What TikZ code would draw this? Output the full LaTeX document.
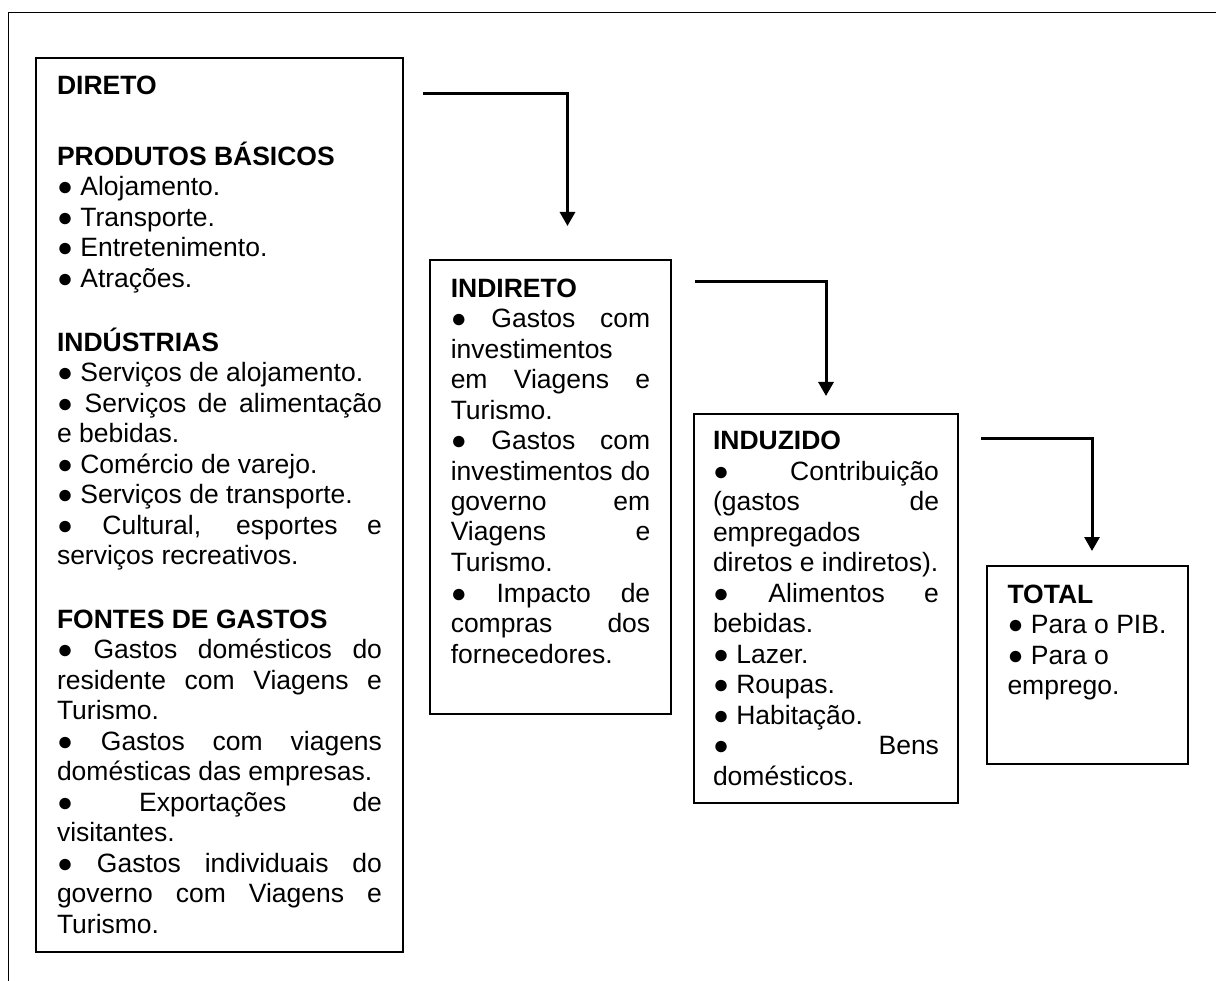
\documentclass[tikz,border=0pt]{standalone}
\usepackage{fontspec}
\setmainfont{Liberation Sans}
\usetikzlibrary{arrows.meta}
\newcommand\Jl[1]{\noindent\makebox[\linewidth][s]{\strut#1}\par}
\newcommand\Ll[1]{\noindent\strut#1\par}
\newcommand\Bl[1]{\noindent\strut\textbf{#1}\par}
\newcommand\Bu{●}
\newcommand\Boxtext[3]{\parbox[c][#1][t]{#2}{\fontsize{26.5}{30.5}\selectfont\setlength\parskip{0pt}\setlength\parindent{0pt}#3}}
\tikzset{
  tbox/.style={draw=black, line width=2.8pt, anchor=north west, inner ysep=0pt, outer sep=0pt},
  conn/.style={draw=black, line width=3pt, -{Triangle[width=15pt,length=14pt]}},
  frame/.style={draw=black, line width=1.5pt}
}
\begin{document}
\begin{tikzpicture}[x=1pt,y=-1pt]
\useasboundingbox (0,0) rectangle (1216,981);
\draw[frame] (8.5,981) -- (8.5,12.5) -- (1216,12.5);

\node[tbox, inner xsep=21pt] (direto) at (36,58) {\Boxtext{894pt}{325pt}{%
\vspace*{14.65pt}
\Bl{DIRETO}
\vspace{37.5pt}
\Bl{PRODUTOS BÁSICOS}
\Ll{\Bu{} Alojamento.}
\Ll{\Bu{} Transporte.}
\Ll{\Bu{} Entretenimento.}
\Ll{\Bu{} Atrações.}
\vspace{30.5pt}
\Bl{INDÚSTRIAS}
\Ll{\Bu{} Serviços de alojamento.}
\Jl{\Bu{} Serviços de alimentação}
\Ll{e bebidas.}
\Ll{\Bu{} Comércio de varejo.}
\Ll{\Bu{} Serviços de transporte.}
\Jl{\Bu{} Cultural, esportes e}
\Ll{serviços recreativos.}
\vspace{33pt}
\Bl{FONTES DE GASTOS}
\Jl{\Bu{} Gastos domésticos do}
\Jl{residente com Viagens e}
\Ll{Turismo.}
\Jl{\Bu{} Gastos com viagens}
\Ll{domésticas das empresas.}
\Jl{\Bu{} Exportações de}
\Ll{visitantes.}
\Jl{\Bu{} Gastos individuais do}
\Jl{governo com Viagens e}
\Ll{Turismo.}
}};

\node[tbox, inner xsep=20.75pt] (indireto) at (430,260) {\Boxtext{454pt}{199.5pt}{%
\vspace*{15.65pt}
\Bl{INDIRETO}
\Jl{\Bu{} Gastos com}
\Ll{investimentos}
\Jl{em Viagens e}
\Ll{Turismo.}
\Jl{\Bu{} Gastos com}
\Jl{investimentos do}
\Jl{governo em}
\Jl{Viagens e}
\Ll{Turismo.}
\Jl{\Bu{} Impacto de}
\Jl{compras dos}
\Ll{fornecedores.}
}};

\node[tbox, inner xsep=19pt] (induzido) at (694,414) {\Boxtext{389pt}{226pt}{%
\vspace*{14.15pt}
\Bl{INDUZIDO}
\Jl{\Bu{} Contribuição}
\Jl{(gastos de}
\Ll{empregados}
\Ll{diretos e indiretos).}
\Jl{\Bu{} Alimentos e}
\Ll{bebidas.}
\Ll{\Bu{} Lazer.}
\Ll{\Bu{} Roupas.}
\Ll{\Bu{} Habitação.}
\Jl{\Bu{} Bens}
\Ll{domésticos.}
}};

\node[tbox, inner xsep=20.5pt] (total) at (987,566) {\Boxtext{198pt}{160pt}{%
\vspace*{15.65pt}
\Bl{TOTAL}
\Ll{\Bu{} Para o PIB.}
\Ll{\Bu{} Para o}
\Ll{emprego.}
}};

\coordinate (a1s) at (423,93.5);
\coordinate (a1e) at (567.5,226);
\coordinate (a2s) at (695,282);
\coordinate (a2e) at (826,396);
\coordinate (a3s) at (981,439);
\coordinate (a3e) at (1092,551);
\draw[conn] (a1s) -| (a1e);
\draw[conn] (a2s) -| (a2e);
\draw[conn] (a3s) -| (a3e);
\end{tikzpicture}
\end{document}
